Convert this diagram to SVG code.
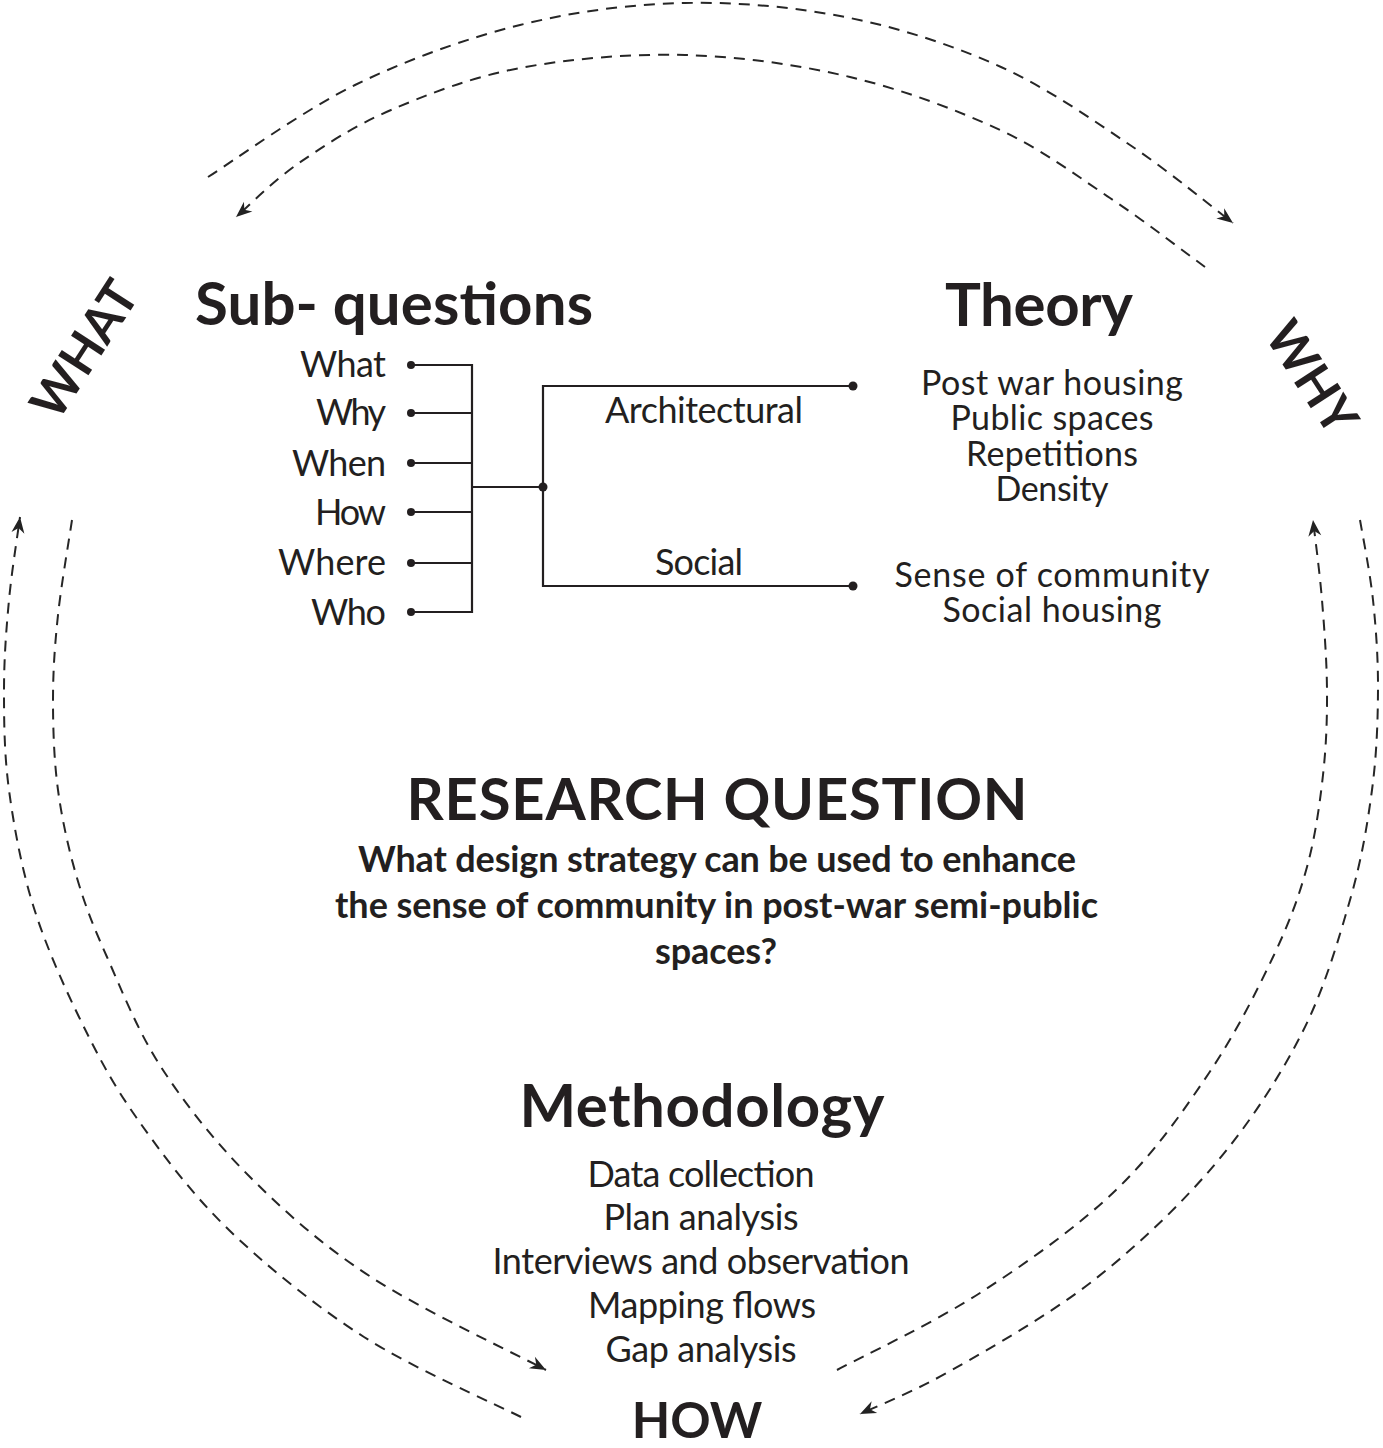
<svg xmlns="http://www.w3.org/2000/svg" width="1383" height="1448" viewBox="0 0 1383 1448">
<style>
.t{font-family:Lato,"Open Sans","Liberation Sans",sans-serif;fill:#231f20}
.b{font-weight:700}
.r{font-weight:400}
.h{font-size:60px}
.m{font-size:36px}
.s{font-size:34px}
.q{font-size:36px}
.c{text-anchor:middle}
.e{text-anchor:end}
.arc{fill:none;stroke:#262626;stroke-width:2;stroke-dasharray:11 8;marker-end:url(#ah)}
.ln{fill:none;stroke:#231f20;stroke-width:2.2}
.dot{fill:#231f20}
</style>
<defs>
<marker id="ah" viewBox="-17 -7 18 14" refX="0" refY="0" markerWidth="18" markerHeight="14" markerUnits="userSpaceOnUse" orient="auto">
<path d="M0,0 L-16,-6.5 L-11,0 L-16,6.5 Z" fill="#222"/>
</marker>
</defs>
<rect width="1383" height="1448" fill="#fff"/>

<g id="connectors">
<path id="arc-top-outer" class="arc" d="M208,177 C232.5,161.7 303,110.3 355,85 C407,59.7 465,38.7 520,25 C575,11.3 630,4.2 685,3 C740,1.8 797.3,7.3 850,18 C902.7,28.7 954.3,45.8 1001,67 C1047.7,88.2 1091.3,119 1130,145 C1168.7,171 1215.8,210 1233,223"/>
<path id="arc-top-inner" class="arc" d="M1205,267 C1189.2,255.5 1144.2,220.8 1110,198 C1075.8,175.2 1043.3,150.2 1000,130 C956.7,109.8 902.5,89.5 850,77 C797.5,64.5 740,56.5 685,55 C630,53.5 569,58.8 520,68 C471,77.2 427.8,94.2 391,110 C354.2,125.8 324.8,145.2 299,163 C273.2,180.8 246.5,208 236,217"/>
<path id="arc-left-outer" class="arc" d="M521,1417 C494.8,1403.7 412.7,1368.2 364,1337 C315.3,1305.8 267,1266.7 229,1230 C191,1193.3 161,1152.5 136,1117 C111,1081.5 96.2,1052.3 79,1017 C61.8,981.7 44.7,942.8 33,905 C21.3,867.2 13.8,825.8 9,790 C4.2,754.2 4,721.7 4,690 C4,658.3 6.3,628.8 9,600 C11.7,571.2 18.2,530.8 20,517"/>
<path id="arc-left-inner" class="arc" d="M72,520 C69.7,535.8 61.2,585 58,615 C54.8,645 53,670.8 53,700 C53,729.2 54,760.3 58,790 C62,819.7 68.8,850.2 77,878 C85.2,905.8 93,925.5 107,957 C121,988.5 137.2,1030.3 161,1067 C184.8,1103.7 215,1142 250,1177 C285,1212 321.7,1244.8 371,1277 C420.3,1309.2 516.8,1354.5 546,1370"/>
<path id="arc-right-inner" class="arc" d="M837,1370 C860.8,1357.2 933.5,1323 980,1293 C1026.5,1263 1077.8,1226.7 1116,1190 C1154.2,1153.3 1182.8,1111.8 1209,1073 C1235.2,1034.2 1256.7,991.3 1273,957 C1289.3,922.7 1298.7,897.3 1307,867 C1315.3,836.7 1319.7,804.5 1323,775 C1326.3,745.5 1327.2,719.2 1327,690 C1326.8,660.8 1324.3,628.3 1322,600 C1319.7,571.7 1314.5,533.3 1313,520"/>
<path id="arc-right-outer" class="arc" d="M1360,520 C1362.2,533.3 1370,571.7 1373,600 C1376,628.3 1378.2,658.3 1378,690 C1377.8,721.7 1376.7,755 1372,790 C1367.3,825 1361.7,859.5 1350,900 C1338.3,940.5 1324.3,989.2 1302,1033 C1279.7,1076.8 1250.7,1121.8 1216,1163 C1181.3,1204.2 1138,1245.5 1094,1280 C1050,1314.5 991,1347.7 952,1370 C913,1392.3 875.3,1406.7 860,1414"/>

<g id="tree">
<path class="ln" d="M411,365 H472 M411,413 H472 M411,463 H472 M411,512 H472 M411,563 H472 M411,612 H472 M472,364 V613 M472,487 H543 M543,385 V587 M543,386 H853 M543,586 H853"/>
<circle class="dot" cx="411" cy="365" r="4"/>
<circle class="dot" cx="411" cy="413" r="4"/>
<circle class="dot" cx="411" cy="463" r="4"/>
<circle class="dot" cx="411" cy="512" r="4"/>
<circle class="dot" cx="411" cy="563" r="4"/>
<circle class="dot" cx="411" cy="612" r="4"/>
<circle class="dot" cx="543" cy="487" r="4.5"/>
<circle class="dot" cx="853" cy="386" r="4.5"/>
<circle class="dot" cx="853" cy="586" r="4.5"/>
</g>
</g>

<g id="what">
<text class="t b c" font-size="50" transform="translate(99,359) rotate(-57)" x="0" y="0">WHAT</text>
</g>
<g id="why">
<text class="t b c" font-size="50" transform="translate(1297,387) rotate(57)" x="0" y="0">WHY</text>
</g>

<g id="sub-questions">
<text class="t b h c" x="394" y="325" textLength="398">Sub- questions</text>
<text class="t r m e" x="386" y="377" textLength="86">What</text>
<text class="t r m e" x="386" y="425" textLength="70">Why</text>
<text class="t r m e" x="386" y="476" textLength="94">When</text>
<text class="t r m e" x="386" y="525" textLength="71">How</text>
<text class="t r m e" x="386" y="575" textLength="108">Where</text>
<text class="t r m e" x="386" y="625" textLength="75">Who</text>
</g>

<g id="architectural">
<text class="t r m c" x="704" y="423" textLength="198">Architectural</text>
</g>
<g id="social">
<text class="t r m c" x="699" y="575" textLength="88">Social</text>
</g>

<g id="theory">
<text class="t b h c" x="1039" y="326" textLength="188">Theory</text>
<text class="t r s c" x="1052" y="395" textLength="262">Post war housing</text>
<text class="t r s c" x="1052" y="430" textLength="203">Public spaces</text>
<text class="t r s c" x="1052" y="466" textLength="172">Repetitions</text>
<text class="t r s c" x="1052" y="501" textLength="113">Density</text>
<text class="t r s c" x="1052" y="587" textLength="315">Sense of community</text>
<text class="t r s c" x="1052" y="622" textLength="219">Social housing</text>
</g>

<g id="research-question">
<text class="t b c" font-size="58" x="717" y="820" textLength="621">RESEARCH QUESTION</text>
<text class="t b q c" x="717" y="872" textLength="718">What design strategy can be used to enhance</text>
<text class="t b q c" x="716.5" y="918" textLength="763">the sense of community in post-war semi-public</text>
<text class="t b q c" x="716" y="964" textLength="122">spaces?</text>
</g>

<g id="methodology">
<text class="t b h c" x="702" y="1127" textLength="365">Methodology</text>
<text class="t r m c" x="701" y="1187" textLength="227">Data collection</text>
<text class="t r m c" x="701" y="1230" textLength="195">Plan analysis</text>
<text class="t r m c" x="701" y="1274" textLength="417">Interviews and observation</text>
<text class="t r m c" x="702" y="1318" textLength="228">Mapping flows</text>
<text class="t r m c" x="701" y="1362" textLength="191">Gap analysis</text>
</g>

<g id="how">
<text class="t b c" font-size="50" x="697" y="1438">HOW</text>
</g>
</svg>
